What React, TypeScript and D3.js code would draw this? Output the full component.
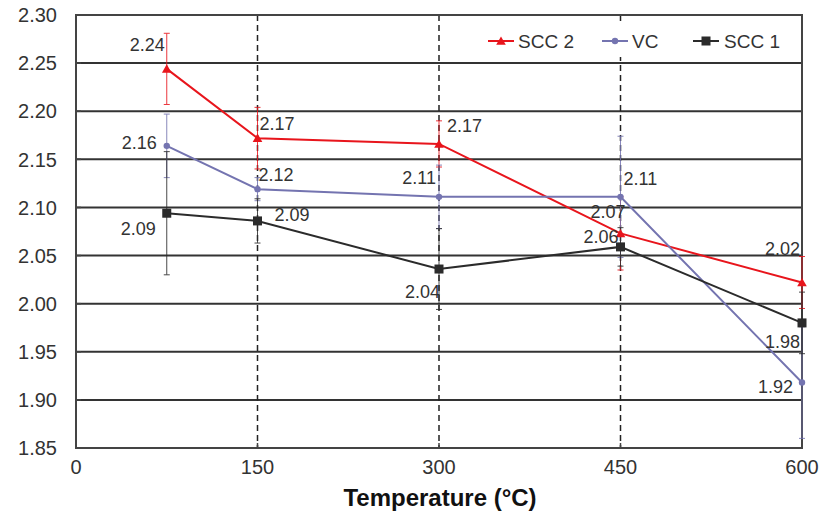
import * as d3 from "d3";
import React from "react";

// temperatures (°C) at which each sample was measured
const temps = [75, 150, 300, 450, 600];

const scc2 = [2.244, 2.172, 2.166, 2.073, 2.022];
const vc = [2.164, 2.119, 2.111, 2.111, 1.918];
const scc1 = [2.094, 2.086, 2.036, 2.059, 1.98];

// half-widths of the error bars
const scc2Err = [0.037, 0.032, 0.024, 0.038, 0.027];
const vcErr = [0.033, 0.012, 0.033, 0.063, 0.058];
const scc1Err = [0.064, 0.023, 0.042, 0.02, 0.032];

const xTicks = [0, 150, 300, 450, 600];
const yTicks = [1.85, 1.9, 1.95, 2.0, 2.05, 2.1, 2.15, 2.2, 2.25, 2.3];

// label placement relative to each point: [dx, dy, anchor]
const scc2Labels: [number, number, string][] = [
  [-2, -24, "end"],
  [2, -15, "start"],
  [8, -18, "start"],
  [5, -22, "end"],
  [-2, -34, "end"],
];
const vcLabels: [number, number, string][] = [
  [-10, -3, "end"],
  [1, -15, "start"],
  [-3, -19, "end"],
  [3, -18, "start"],
  [-9, 4, "end"],
];
const scc1Labels: [number, number, string][] = [
  [-11, 15, "end"],
  [17, -6, "start"],
  [1, 22, "end"],
  [-2, -10, "end"],
  [-2, 19, "end"],
];

const W = 822;
const H = 519;
const margin = { left: 76, right: 20, top: 15, bottom: 71 };
const FONT = "'Liberation Sans', Arial, Helvetica, sans-serif";

const x = d3
  .scaleLinear()
  .domain([0, 600])
  .range([margin.left, W - margin.right]);
const y = d3
  .scaleLinear()
  .domain([1.85, 2.3])
  .range([H - margin.bottom, margin.top]);

const series = [
  { name: "SCC 2", values: scc2, err: scc2Err, labels: scc2Labels, color: "#e8151c", marker: "triangle" },
  { name: "VC", values: vc, err: vcErr, labels: vcLabels, color: "#7474b0", marker: "diamond" },
  { name: "SCC 1", values: scc1, err: scc1Err, labels: scc1Labels, color: "#2b2b2b", marker: "square" },
];

const Marker = ({ type, cx, cy, color }: { type: string; cx: number; cy: number; color: string }) => {
  if (type === "triangle") {
    const p = d3.symbol(d3.symbolTriangle, 40)();
    return <path d={p || ""} transform={`translate(${cx},${cy + 1})`} fill={color} />;
  }
  if (type === "diamond") {
    return <circle cx={cx} cy={cy} r={3.2} fill={color} />;
  }
  return <rect x={cx - 4.5} y={cy - 4.5} width={9} height={9} fill={color} />;
};

export default function App() {
  const line = d3
    .line<number>()
    .x((_, i) => x(temps[i]))
    .y((d) => y(d));

  const legendItems = [
    { s: series[0], lx: 488, tx: 518 },
    { s: series[1], lx: 602, tx: 632 },
    { s: series[2], lx: 693, tx: 724 },
  ];

  return (
    <svg
      width={W}
      height={H}
      style={{ position: "absolute", left: 0, top: 0, background: "#fff" }}
      fontFamily={FONT}
    >
      {/* horizontal grid */}
      {yTicks.map((t) => (
        <line key={t} x1={x(0)} x2={x(600)} y1={y(t)} y2={y(t)} stroke="#333" strokeWidth={2} />
      ))}
      {/* dashed vertical grid */}
      {xTicks.slice(1, -1).map((t) => (
        <line
          key={t}
          x1={x(t)}
          x2={x(t)}
          y1={y(2.3)}
          y2={y(1.85)}
          stroke="#222"
          strokeWidth={1.5}
          strokeDasharray="6,4"
        />
      ))}
      {/* frame */}
      <rect
        x={x(0)}
        y={y(2.3)}
        width={x(600) - x(0)}
        height={y(1.85) - y(2.3)}
        fill="none"
        stroke="#444"
        strokeWidth={2}
      />
      {/* ticks */}
      {yTicks.map((t) => (
        <g key={"yt" + t}>
          <line x1={x(0)} x2={x(0) + 5} y1={y(t)} y2={y(t)} stroke="#444" strokeWidth={1.5} />
          <text x={57} y={y(t)} dy="0.36em" textAnchor="end" fontSize={20} fill="#333">
            {d3.format(".2f")(t)}
          </text>
        </g>
      ))}
      {xTicks.map((t) => (
        <g key={"xt" + t}>
          <line x1={x(t)} x2={x(t)} y1={y(1.85)} y2={y(1.85) - 5} stroke="#444" strokeWidth={1.5} />
          <text x={x(t)} y={y(1.85) + 19} dy="0.36em" textAnchor="middle" fontSize={20} fill="#333">
            {t}
          </text>
        </g>
      ))}
      <text x={440} y={497} dy="0.36em" textAnchor="middle" fontSize={24} fontWeight="bold" fill="#111">
        Temperature (°C)
      </text>

      {/* legend */}
      <rect x={480} y={24} width={x(600) - 481} height={33} fill="#fff" />
      {legendItems.map(({ s, lx, tx }) => (
        <g key={s.name}>
          <line x1={lx} x2={lx + 26} y1={41} y2={41} stroke={s.color} strokeWidth={2} />
          <Marker type={s.marker} cx={lx + 13} cy={41} color={s.color} />
          <text x={tx} y={41} dy="0.36em" fontSize={19} fill="#333">
            {s.name}
          </text>
        </g>
      ))}

      {/* error bars */}
      {series.map((s) =>
        s.values.map((v, i) => {
          const cx = x(temps[i]);
          const top = y(v + s.err[i]);
          const bot = y(v - s.err[i]);
          return (
            <g key={s.name + "e" + i} stroke={s.color} strokeWidth={1} opacity={0.85}>
              <line x1={cx} x2={cx} y1={top} y2={bot} />
              <line x1={cx - 3} x2={cx + 3} y1={top} y2={top} />
              <line x1={cx - 3} x2={cx + 3} y1={bot} y2={bot} />
            </g>
          );
        })
      )}

      {/* lines, markers, labels */}
      {series.map((s) => (
        <g key={s.name}>
          <path d={line(s.values) || ""} fill="none" stroke={s.color} strokeWidth={2} />
          {s.values.map((v, i) => (
            <Marker key={i} type={s.marker} cx={x(temps[i])} cy={y(v)} color={s.color} />
          ))}
          {s.values.map((v, i) => (
            <text
              key={"l" + i}
              x={x(temps[i]) + s.labels[i][0]}
              y={y(v) + s.labels[i][1]}
              dy="0.36em"
              textAnchor={s.labels[i][2]}
              fontSize={18}
              fill="#333"
            >
              {v.toFixed(2)}
            </text>
          ))}
        </g>
      ))}
    </svg>
  );
}
